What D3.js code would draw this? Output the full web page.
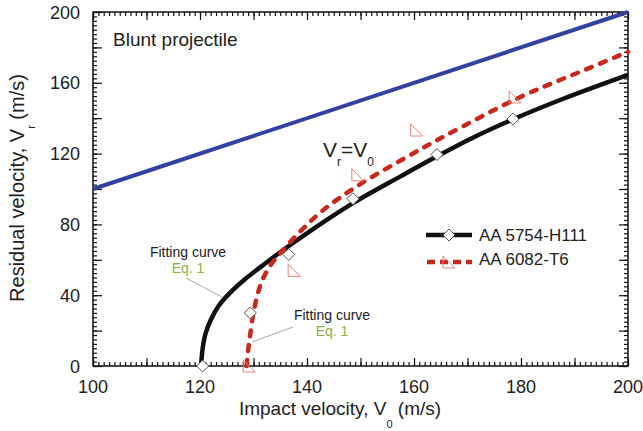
<!DOCTYPE html>
<html>
<head>
<meta charset="utf-8">
<script src="https://cdn.jsdelivr.net/npm/d3@7"></script>
<style>
	body { margin: 0; background: #fff; }
	text { font-family: Arial, 'Liberation Sans', sans-serif; fill: #222; }
</style>
</head>
<body>
<div id="chart"></div>
<script>
// values
const xTicks = [100, 120, 140, 160, 180, 200]
const yTicks = [0, 40, 80, 120, 160, 200]
const identityLine = [[100, 100], [200, 200]]

// fitting curve, AA 5754-H111
const fit5754 = [[120.2, 0], [120.5, 10], [121, 18], [122, 26], [123.5, 34], [125.5, 41],
	[128.4, 49], [132, 57.5], [136, 66.5], [141.2, 77.5], [148.6, 92], [157.4, 107],
	[164.3, 118.5], [171, 129], [178.6, 139.5], [187.9, 151], [200, 164.5]]
// fitting curve, AA 6082-T6
const fit6082 = [[128.7, 0], [129, 9], [129.35, 17], [129.96, 29.5], [130.9, 42], [131.8, 49.5],
	[133.2, 57], [135, 63.7], [138.7, 75.9], [143, 88], [149.3, 101.5], [158.6, 118],
	[166.1, 130.5], [179.2, 151], [187.3, 161.6], [191.7, 167], [200, 177.5]]

// measured points
const test5754V0 = [120.5, 129.4, 136.6, 148.6, 164.3, 178.5]
const test5754Vr = [0, 30, 63, 94.5, 119.5, 139.5]
const test6082V0 = [129.2, 137.6, 149.5, 160.5, 178.9]
const test6082Vr = [0, 54, 108, 133.3, 152]

const width = 643
const height = 431

const svg = d3.select('#chart')
	.append('svg')
	.attr('width', width)
	.attr('height', height)

const xScale = d3.scaleLinear().domain([100, 200]).range([93, 628])
const yScale = d3.scaleLinear().domain([0, 200]).range([366, 12])

// ticks on all four sides, pointing inwards
const axisW = 1.5
svg.append('g')
	.attr('transform', 'translate(0,' + yScale(0) + ')')
	.call(d3.axisBottom(xScale).tickValues(d3.range(100, 201, 1)).tickSize(-4).tickFormat(''))
svg.append('g')
	.attr('transform', 'translate(0,' + yScale(0) + ')')
	.call(d3.axisBottom(xScale).tickValues(d3.range(100, 201, 10)).tickSize(-8).tickFormat(''))
svg.append('g')
	.attr('transform', 'translate(0,' + yScale(200) + ')')
	.call(d3.axisTop(xScale).tickValues(d3.range(100, 201, 1)).tickSize(-4).tickFormat(''))
svg.append('g')
	.attr('transform', 'translate(0,' + yScale(200) + ')')
	.call(d3.axisTop(xScale).tickValues(d3.range(100, 201, 10)).tickSize(-8).tickFormat(''))
svg.append('g')
	.attr('transform', 'translate(' + xScale(100) + ',0)')
	.call(d3.axisLeft(yScale).tickValues(d3.range(0, 201, 2.5)).tickSize(-4).tickFormat(''))
svg.append('g')
	.attr('transform', 'translate(' + xScale(100) + ',0)')
	.call(d3.axisLeft(yScale).tickValues(d3.range(0, 201, 20)).tickSize(-9).tickFormat(''))
svg.append('g')
	.attr('transform', 'translate(' + xScale(200) + ',0)')
	.call(d3.axisRight(yScale).tickValues(d3.range(0, 201, 2.5)).tickSize(-4).tickFormat(''))
svg.append('g')
	.attr('transform', 'translate(' + xScale(200) + ',0)')
	.call(d3.axisRight(yScale).tickValues(d3.range(0, 201, 20)).tickSize(-9).tickFormat(''))
svg.selectAll('.domain').remove()
svg.selectAll('.tick line').attr('stroke', '#111').attr('stroke-width', 1.2)

svg.append('rect')
	.attr('x', xScale(100))
	.attr('y', yScale(200))
	.attr('width', xScale(200) - xScale(100))
	.attr('height', yScale(0) - yScale(200))
	.attr('fill', 'none')
	.attr('stroke', '#111')
	.attr('stroke-width', axisW)

// tick labels
svg.selectAll('.xlab')
	.data(xTicks)
	.join('text')
	.attr('x', d => xScale(d))
	.attr('y', 393)
	.attr('text-anchor', 'middle')
	.style('font-size', '18px')
	.text(d => d)
svg.selectAll('.ylab')
	.data(yTicks)
	.join('text')
	.attr('x', 80)
	.attr('y', d => yScale(d) + 6.5)
	.attr('text-anchor', 'end')
	.style('font-size', '18px')
	.text(d => d)

// axis titles
const xt = svg.append('text')
	.attr('x', 340)
	.attr('y', 415)
	.attr('text-anchor', 'middle')
	.style('font-size', '19px')
xt.append('tspan').text('Impact velocity, V')
xt.append('tspan').attr('dy', 13).style('font-size', '11px').text('0')
xt.append('tspan').attr('dy', -13).text(' (m/s)')

const yt = svg.append('text')
	.attr('transform', 'translate(24,188) rotate(-90)')
	.attr('text-anchor', 'middle')
	.style('font-size', '20px')
yt.append('tspan').text('Residual velocity, V')
yt.append('tspan').attr('dy', 11).style('font-size', '11px').text('r')
yt.append('tspan').attr('dy', -11).text(' (m/s)')

const line = d3.line()
	.x(d => xScale(d[0]))
	.y(d => yScale(d[1]))
const curve = d3.line()
	.x(d => xScale(d[0]))
	.y(d => yScale(d[1]))
	.curve(d3.curveCatmullRom.alpha(0.5))

svg.append('path')
	.attr('d', line(identityLine))
	.attr('fill', 'none')
	.attr('stroke', '#3541a0')
	.attr('stroke-width', 4)

svg.append('path')
	.attr('d', curve(fit5754))
	.attr('fill', 'none')
	.attr('stroke', '#111')
	.attr('stroke-width', 4.5)

svg.append('path')
	.attr('d', curve(fit6082))
	.attr('fill', 'none')
	.attr('stroke', '#c8281e')
	.attr('stroke-width', 4.5)
	.attr('stroke-linecap', 'round')
	.attr('stroke-dasharray', '6,9')

// markers
const diamond = 'M0,-6L6,0L0,6L-6,0Z'
const tri = 'M-6,-6L-6,6L6,6Z'

svg.selectAll('.m5754')
	.data(test5754V0)
	.join('path')
	.attr('d', diamond)
	.attr('transform', (d, i) => 'translate(' + xScale(d) + ',' + yScale(test5754Vr[i]) + ')')
	.attr('fill', '#fff')
	.attr('stroke', '#555')
	.attr('stroke-width', 1)

svg.selectAll('.m6082')
	.data(test6082V0)
	.join('path')
	.attr('d', tri)
	.attr('transform', (d, i) => 'translate(' + xScale(d) + ',' + yScale(test6082Vr[i]) + ')')
	.attr('fill', '#fff')
	.attr('fill-opacity', 0)
	.attr('stroke', '#e8807a')
	.attr('stroke-width', 1)

// texts inside the plot
svg.append('text')
	.attr('x', 113)
	.attr('y', 46)
	.style('font-size', '19px')
	.text('Blunt projectile')

const vl = svg.append('text')
	.attr('x', 323)
	.attr('y', 157)
	.style('font-size', '21px')
vl.append('tspan').text('V')
vl.append('tspan').attr('dy', 9).style('font-size', '12px').text('r')
vl.append('tspan').attr('dy', -9).text('=V')
vl.append('tspan').attr('dy', 9).style('font-size', '12px').text('0')

// annotations
svg.append('line')
	.attr('x1', 186).attr('y1', 278).attr('x2', 222).attr('y2', 297)
	.attr('stroke', '#aaa').attr('stroke-width', 1)
svg.append('line')
	.attr('x1', 293).attr('y1', 327).attr('x2', 252).attr('y2', 342)
	.attr('stroke', '#aaa').attr('stroke-width', 1)

function annotate(x, y) {
	svg.append('text')
		.attr('x', x).attr('y', y)
		.attr('text-anchor', 'middle')
		.style('font-size', '14px')
		.text('Fitting curve')
	svg.append('text')
		.attr('x', x).attr('y', y + 16)
		.attr('text-anchor', 'middle')
		.style('font-size', '14px')
		.style('fill', '#8cb43c')
		.text('Eq. 1')
}
annotate(188, 257)
annotate(332, 320)

// legend
const legend = svg.append('g')
legend.append('line')
	.attr('x1', 426).attr('x2', 472).attr('y1', 235).attr('y2', 235)
	.attr('stroke', '#111').attr('stroke-width', 4.5)
legend.append('path')
	.attr('d', diamond)
	.attr('transform', 'translate(449,235)')
	.attr('fill', '#fff').attr('stroke', '#555')
legend.append('text')
	.attr('x', 479).attr('y', 241)
	.style('font-size', '17px')
	.text('AA 5754-H111')
legend.append('line')
	.attr('x1', 427).attr('x2', 472).attr('y1', 262).attr('y2', 262)
	.attr('stroke', '#c8281e').attr('stroke-width', 4.5)
	.attr('stroke-dasharray', '8,5')
legend.append('path')
	.attr('d', tri)
	.attr('transform', 'translate(449,262)')
	.attr('fill', '#fff').attr('fill-opacity', 0).attr('stroke', '#e8807a')
legend.append('text')
	.attr('x', 479).attr('y', 265)
	.style('font-size', '17px')
	.text('AA 6082-T6')
</script>
</body>
</html>
